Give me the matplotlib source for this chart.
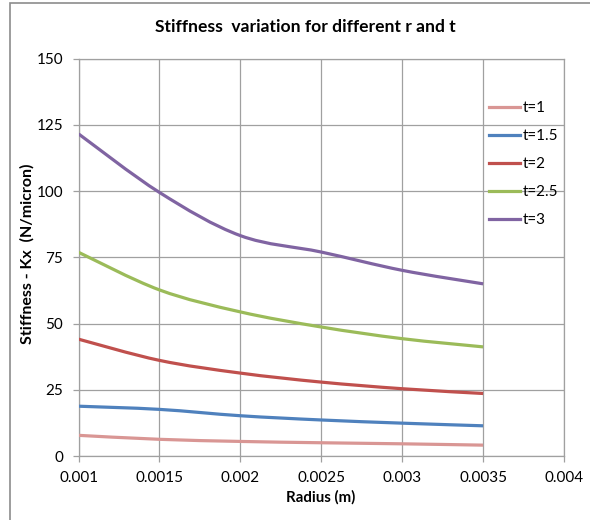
import matplotlib
matplotlib.use("Agg")
import matplotlib.pyplot as plt
import numpy as np
from matplotlib.path import Path
from matplotlib.patches import PathPatch, Rectangle
from matplotlib.lines import Line2D

# Radius values (m) and stiffness Kx (N/micron) for each thickness t
radius = [0.001, 0.0015, 0.002, 0.0025, 0.003, 0.0035]
kx_t1 = [7.8, 6.3, 5.5, 5.0, 4.6, 4.1]
kx_t15 = [18.8, 17.6, 15.2, 13.6, 12.4, 11.4]
kx_t2 = [44.1, 36.1, 31.3, 27.9, 25.4, 23.6]
kx_t25 = [76.9, 62.7, 54.4, 48.7, 44.3, 41.2]
kx_t3 = [121.6, 99.5, 83.2, 77.0, 70.1, 65.0]

series_labels = ["t=1", "t=1.5", "t=2", "t=2.5", "t=3"]
series_values = [kx_t1, kx_t15, kx_t2, kx_t25, kx_t3]
series_colors = ["#D99694", "#4F81BD", "#C0504D", "#9BBB59", "#8064A2"]

x_ticks = [0.001, 0.0015, 0.002, 0.0025, 0.003, 0.0035, 0.004]
x_ticklabels = ["0.001", "0.0015", "0.002", "0.0025", "0.003", "0.0035", "0.004"]
y_ticks = [0, 25, 50, 75, 100, 125, 150]

FONT = "Lato"
GRID = "#A0A0A0"

W, H = 590, 520
fig = plt.figure(figsize=(W / 100, H / 100), dpi=100)

# outer chart frame
fig.patches.append(Rectangle((9.5 / W, -0.05), 1.2, 1.05 - 3 / H,
                             transform=fig.transFigure, fill=False,
                             edgecolor="#8C8C8C", linewidth=1.2))

left, right, top, bottom = 78.6, 564, 58.7, 456
ax = fig.add_axes([left / W, 1 - bottom / H, (right - left) / W, (bottom - top) / H])


def smooth_path(xs, ys):
    """Cubic Bezier path through the points (Catmull-Rom style smoothing)."""
    pts = np.column_stack([xs, ys]).astype(float)
    n = len(pts)
    verts = [pts[0]]
    codes = [Path.MOVETO]
    for i in range(n - 1):
        p0 = pts[i - 1] if i > 0 else pts[i]
        p1 = pts[i]
        p2 = pts[i + 1]
        p3 = pts[i + 2] if i + 2 < n else pts[i + 1]
        c1 = p1 + (p2 - p0) / 6.0
        c2 = p2 - (p3 - p1) / 6.0
        verts += [c1, c2, p2]
        codes += [Path.CURVE4] * 3
    return Path(verts, codes)


for vals, col in zip(series_values, series_colors):
    patch = PathPatch(smooth_path(radius, vals), facecolor="none", edgecolor=col,
                      linewidth=2.3, capstyle="butt", joinstyle="round", zorder=3)
    ax.add_patch(patch)

ax.set_xlim(0.001, 0.004)
ax.set_ylim(0, 150)
ax.set_xticks(x_ticks)
ax.set_xticklabels(x_ticklabels)
ax.set_yticks(y_ticks)
ax.grid(True, color=GRID, linewidth=0.9)
ax.set_axisbelow(True)
for s in ax.spines.values():
    s.set_color(GRID)
    s.set_linewidth(0.9)
ax.tick_params(axis="both", direction="out", length=4, width=0.9, color=GRID,
               labelsize=11, labelcolor="#000000")
ax.tick_params(axis="x", pad=7)
ax.tick_params(axis="y", pad=7)
for lab in ax.get_xticklabels() + ax.get_yticklabels():
    lab.set_fontfamily(FONT)

handles = [Line2D([], [], color=c, linewidth=2.3) for c in series_colors]
leg = ax.legend(handles, series_labels, loc="upper left",
                bbox_to_anchor=(489 / W, 1 - 101.5 / H), bbox_transform=fig.transFigure,
                frameon=False, handlelength=2.05, handletextpad=0.15,
                labelspacing=0.91, borderaxespad=0, borderpad=0,
                prop={"family": FONT, "size": 11})

fig.text(305 / W, 1 - 27 / H, "Stiffness  variation for different r and t",
         ha="center", va="center", fontsize=12.6, fontweight="bold", family=FONT)
fig.text(27 / W, 1 - 254 / H, "Stiffness - Kx  (N/micron)", rotation=90,
         ha="center", va="center", fontsize=11.5, fontweight="bold", family=FONT)
fig.text(321 / W, 1 - 497 / H, "Radius (m)", ha="center", va="center",
         fontsize=10.8, fontweight="bold", family=FONT)

fig.savefig("out.png", dpi=100, facecolor="white")
